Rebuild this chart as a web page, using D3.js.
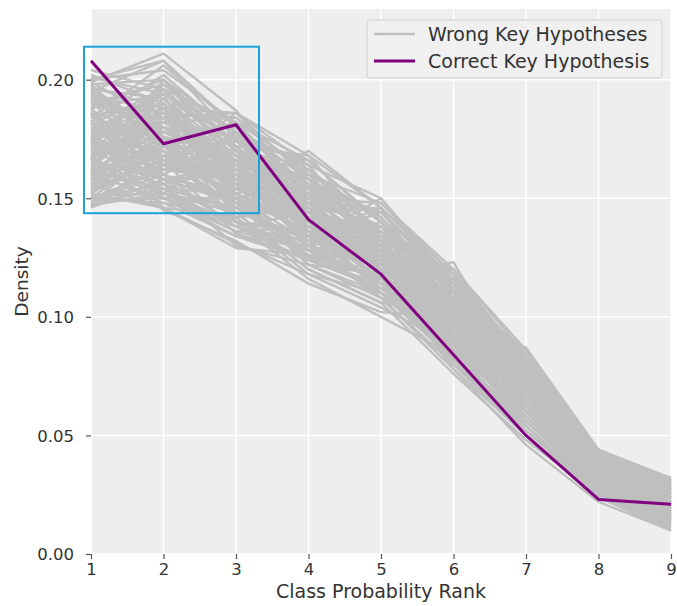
<!DOCTYPE html>
<html>
<head>
<meta charset="utf-8">
<script src="https://cdn.jsdelivr.net/npm/d3@7/dist/d3.min.js"></script>
<style>
  html, body { margin: 0; padding: 0; background: #ffffff; }
  svg { display: block; font-family: "DejaVu Sans", sans-serif; }
</style>
</head>
<body>
<svg id="chart" width="677" height="606"></svg>
<script>
// Rank positions on the x axis
const ranks = [1, 2, 3, 4, 5, 6, 7, 8, 9];

// Density per rank for the correct key hypothesis
const correctKey = [0.208, 0.173, 0.181, 0.141, 0.118, 0.084, 0.050, 0.023, 0.021];

// Density per rank for each wrong key hypothesis
const wrongKeys = [
  [0.204, 0.196, 0.170, 0.148, 0.126, 0.090, 0.058, 0.030, 0.016],
  [0.199, 0.211, 0.187, 0.150, 0.122, 0.086, 0.060, 0.032, 0.018],
  [0.195, 0.208, 0.180, 0.158, 0.132, 0.094, 0.064, 0.028, 0.014],
  [0.150, 0.162, 0.176, 0.166, 0.140, 0.104, 0.070, 0.036, 0.022],
  [0.147, 0.175, 0.158, 0.140, 0.130, 0.112, 0.078, 0.040, 0.028],
  [0.160, 0.150, 0.140, 0.134, 0.146, 0.118, 0.082, 0.042, 0.030],
  [0.178, 0.168, 0.150, 0.122, 0.118, 0.123, 0.072, 0.038, 0.026],
  [0.185, 0.190, 0.160, 0.136, 0.112, 0.098, 0.087, 0.044, 0.032],
  [0.170, 0.182, 0.184, 0.160, 0.128, 0.082, 0.052, 0.026, 0.012],
  [0.156, 0.146, 0.129, 0.126, 0.124, 0.108, 0.080, 0.041, 0.031],
  [0.188, 0.200, 0.164, 0.130, 0.108, 0.078, 0.050, 0.024, 0.010],
  [0.166, 0.158, 0.148, 0.155, 0.142, 0.110, 0.076, 0.039, 0.027],
  [0.174, 0.186, 0.172, 0.146, 0.120, 0.096, 0.066, 0.034, 0.021],
  [0.152, 0.170, 0.142, 0.118, 0.104, 0.088, 0.062, 0.031, 0.019],
  [0.192, 0.176, 0.156, 0.144, 0.136, 0.102, 0.068, 0.033, 0.020],
  [0.162, 0.192, 0.168, 0.128, 0.110, 0.084, 0.056, 0.029, 0.015],
  [0.180, 0.160, 0.138, 0.132, 0.150, 0.114, 0.074, 0.037, 0.025],
  [0.148, 0.154, 0.146, 0.162, 0.134, 0.092, 0.060, 0.030, 0.017],
  [0.200, 0.204, 0.182, 0.152, 0.116, 0.080, 0.054, 0.027, 0.013],
  [0.168, 0.145, 0.132, 0.114, 0.102, 0.100, 0.084, 0.043, 0.030],
  [0.158, 0.180, 0.162, 0.142, 0.138, 0.106, 0.071, 0.035, 0.023],
  [0.184, 0.172, 0.178, 0.164, 0.128, 0.090, 0.058, 0.029, 0.016],
  [0.176, 0.196, 0.152, 0.124, 0.114, 0.086, 0.064, 0.033, 0.022],
  [0.154, 0.166, 0.174, 0.156, 0.144, 0.116, 0.079, 0.040, 0.028],
  [0.190, 0.184, 0.144, 0.120, 0.106, 0.076, 0.048, 0.025, 0.012],
  [0.164, 0.188, 0.186, 0.168, 0.132, 0.094, 0.062, 0.032, 0.018],
  [0.172, 0.150, 0.136, 0.138, 0.126, 0.104, 0.076, 0.038, 0.026],
  [0.146, 0.158, 0.160, 0.150, 0.148, 0.120, 0.086, 0.042, 0.031],
  [0.196, 0.178, 0.166, 0.134, 0.112, 0.088, 0.066, 0.034, 0.024],
  [0.182, 0.202, 0.176, 0.146, 0.118, 0.082, 0.050, 0.024, 0.011],
  [0.160, 0.174, 0.150, 0.136, 0.120, 0.098, 0.078, 0.041, 0.029],
  [0.150, 0.148, 0.134, 0.130, 0.140, 0.112, 0.073, 0.036, 0.024],
  [0.186, 0.164, 0.154, 0.170, 0.146, 0.100, 0.060, 0.030, 0.016],
  [0.170, 0.194, 0.170, 0.140, 0.124, 0.092, 0.068, 0.035, 0.021],
  [0.178, 0.152, 0.140, 0.116, 0.100, 0.084, 0.070, 0.037, 0.027],
  [0.194, 0.186, 0.184, 0.160, 0.130, 0.096, 0.056, 0.028, 0.014],
  [0.158, 0.168, 0.146, 0.126, 0.116, 0.106, 0.082, 0.043, 0.032],
  [0.166, 0.198, 0.174, 0.152, 0.126, 0.090, 0.054, 0.026, 0.013],
  [0.188, 0.156, 0.130, 0.122, 0.110, 0.094, 0.076, 0.039, 0.028],
  [0.152, 0.178, 0.164, 0.158, 0.142, 0.108, 0.070, 0.034, 0.020],
  [0.174, 0.170, 0.158, 0.148, 0.138, 0.118, 0.080, 0.040, 0.026],
  [0.202, 0.190, 0.162, 0.132, 0.108, 0.080, 0.052, 0.027, 0.015],
  [0.156, 0.160, 0.176, 0.144, 0.122, 0.102, 0.074, 0.038, 0.025],
  [0.184, 0.206, 0.180, 0.154, 0.120, 0.078, 0.046, 0.022, 0.010],
  [0.162, 0.154, 0.138, 0.128, 0.134, 0.114, 0.084, 0.044, 0.031],
  [0.180, 0.182, 0.168, 0.162, 0.136, 0.098, 0.064, 0.031, 0.018],
  [0.168, 0.176, 0.148, 0.124, 0.112, 0.090, 0.072, 0.037, 0.025],
  [0.198, 0.170, 0.156, 0.138, 0.128, 0.100, 0.062, 0.031, 0.017],
  [0.148, 0.164, 0.170, 0.164, 0.150, 0.110, 0.068, 0.033, 0.019],
  [0.176, 0.146, 0.142, 0.146, 0.132, 0.104, 0.078, 0.039, 0.026],
  [0.190, 0.198, 0.178, 0.136, 0.116, 0.086, 0.058, 0.029, 0.016],
  [0.160, 0.184, 0.152, 0.140, 0.126, 0.120, 0.080, 0.042, 0.029],
  [0.172, 0.162, 0.166, 0.150, 0.118, 0.096, 0.066, 0.034, 0.022],
  [0.154, 0.190, 0.158, 0.134, 0.144, 0.112, 0.070, 0.035, 0.021],
  [0.186, 0.150, 0.150, 0.156, 0.130, 0.092, 0.060, 0.030, 0.017],
  [0.194, 0.180, 0.172, 0.142, 0.124, 0.088, 0.056, 0.028, 0.014],
  [0.164, 0.156, 0.144, 0.120, 0.106, 0.100, 0.080, 0.041, 0.030],
  [0.178, 0.188, 0.160, 0.130, 0.114, 0.094, 0.074, 0.038, 0.027],
  [0.150, 0.172, 0.182, 0.166, 0.140, 0.106, 0.066, 0.032, 0.019],
  [0.170, 0.166, 0.135, 0.125, 0.118, 0.110, 0.086, 0.043, 0.031],
  [0.196, 0.192, 0.164, 0.144, 0.120, 0.084, 0.052, 0.025, 0.012],
  [0.158, 0.176, 0.168, 0.152, 0.136, 0.116, 0.077, 0.039, 0.024],
  [0.182, 0.158, 0.148, 0.128, 0.122, 0.102, 0.070, 0.036, 0.023],
  [0.166, 0.186, 0.154, 0.148, 0.128, 0.098, 0.064, 0.032, 0.020],
  [0.200, 0.208, 0.175, 0.140, 0.110, 0.082, 0.054, 0.026, 0.013],
  [0.152, 0.146, 0.131, 0.118, 0.110, 0.092, 0.072, 0.037, 0.027],
  [0.176, 0.164, 0.186, 0.158, 0.126, 0.090, 0.060, 0.030, 0.018],
  [0.188, 0.194, 0.140, 0.128, 0.116, 0.104, 0.068, 0.033, 0.020],
  [0.162, 0.152, 0.172, 0.168, 0.146, 0.098, 0.062, 0.031, 0.019],
  [0.146, 0.168, 0.156, 0.132, 0.122, 0.114, 0.084, 0.042, 0.030],
  [0.199, 0.182, 0.166, 0.150, 0.130, 0.100, 0.070, 0.035, 0.020],
  [0.193, 0.166, 0.152, 0.136, 0.124, 0.106, 0.078, 0.040, 0.027],
  [0.187, 0.174, 0.182, 0.162, 0.140, 0.096, 0.058, 0.029, 0.017],
  [0.181, 0.196, 0.170, 0.138, 0.116, 0.092, 0.066, 0.034, 0.022],
  [0.175, 0.158, 0.138, 0.124, 0.120, 0.110, 0.082, 0.042, 0.030],
  [0.169, 0.180, 0.160, 0.152, 0.134, 0.104, 0.072, 0.036, 0.024],
  [0.163, 0.200, 0.178, 0.156, 0.128, 0.088, 0.056, 0.028, 0.015],
  [0.157, 0.164, 0.154, 0.142, 0.138, 0.116, 0.078, 0.040, 0.026],
  [0.151, 0.152, 0.136, 0.128, 0.126, 0.108, 0.080, 0.041, 0.029],
  [0.197, 0.188, 0.150, 0.126, 0.112, 0.094, 0.070, 0.036, 0.024],
  [0.191, 0.162, 0.160, 0.160, 0.142, 0.108, 0.064, 0.032, 0.018],
  [0.185, 0.184, 0.186, 0.164, 0.124, 0.086, 0.054, 0.026, 0.013],
  [0.179, 0.174, 0.144, 0.134, 0.130, 0.112, 0.076, 0.038, 0.026],
  [0.173, 0.158, 0.164, 0.146, 0.118, 0.094, 0.068, 0.035, 0.023],
  [0.167, 0.192, 0.162, 0.130, 0.114, 0.100, 0.074, 0.038, 0.026],
  [0.161, 0.148, 0.142, 0.150, 0.144, 0.114, 0.078, 0.039, 0.027],
  [0.155, 0.178, 0.180, 0.158, 0.132, 0.096, 0.062, 0.031, 0.019],
  [0.149, 0.160, 0.150, 0.140, 0.128, 0.104, 0.080, 0.042, 0.030],
  [0.198, 0.200, 0.172, 0.148, 0.118, 0.080, 0.050, 0.025, 0.012],
  [0.192, 0.176, 0.146, 0.132, 0.126, 0.106, 0.068, 0.034, 0.021],
  [0.186, 0.166, 0.176, 0.152, 0.136, 0.102, 0.062, 0.031, 0.018],
  [0.180, 0.190, 0.156, 0.122, 0.108, 0.092, 0.076, 0.039, 0.028],
  [0.174, 0.154, 0.152, 0.160, 0.148, 0.118, 0.074, 0.036, 0.022],
  [0.168, 0.184, 0.168, 0.144, 0.124, 0.090, 0.060, 0.030, 0.017],
  [0.162, 0.170, 0.140, 0.136, 0.132, 0.120, 0.084, 0.043, 0.031],
  [0.156, 0.196, 0.182, 0.150, 0.120, 0.084, 0.054, 0.027, 0.014],
  [0.150, 0.156, 0.162, 0.154, 0.138, 0.110, 0.072, 0.035, 0.021],
  [0.195, 0.172, 0.158, 0.142, 0.122, 0.098, 0.066, 0.033, 0.021],
  [0.189, 0.186, 0.166, 0.128, 0.110, 0.086, 0.060, 0.030, 0.018],
  [0.183, 0.150, 0.134, 0.124, 0.128, 0.116, 0.082, 0.041, 0.028],
  [0.177, 0.194, 0.174, 0.166, 0.140, 0.102, 0.064, 0.032, 0.018],
  [0.171, 0.168, 0.160, 0.138, 0.120, 0.100, 0.072, 0.037, 0.025],
  [0.165, 0.160, 0.178, 0.148, 0.126, 0.094, 0.066, 0.034, 0.022],
  [0.159, 0.188, 0.150, 0.132, 0.124, 0.108, 0.078, 0.040, 0.027],
  [0.153, 0.166, 0.156, 0.162, 0.140, 0.106, 0.070, 0.035, 0.021],
  [0.147, 0.152, 0.144, 0.134, 0.136, 0.112, 0.076, 0.039, 0.027],
  [0.201, 0.194, 0.178, 0.146, 0.114, 0.082, 0.052, 0.026, 0.014],
  [0.185, 0.160, 0.148, 0.140, 0.134, 0.108, 0.074, 0.038, 0.025],
  [0.179, 0.180, 0.162, 0.154, 0.130, 0.098, 0.062, 0.031, 0.019],
  [0.173, 0.198, 0.172, 0.136, 0.116, 0.088, 0.058, 0.029, 0.016],
  [0.167, 0.152, 0.146, 0.130, 0.122, 0.106, 0.080, 0.041, 0.029],
  [0.161, 0.182, 0.176, 0.160, 0.142, 0.104, 0.066, 0.033, 0.020],
  [0.155, 0.172, 0.148, 0.124, 0.112, 0.098, 0.078, 0.040, 0.028],
  [0.149, 0.150, 0.138, 0.144, 0.146, 0.116, 0.076, 0.037, 0.023],
  [0.193, 0.178, 0.168, 0.156, 0.128, 0.092, 0.058, 0.028, 0.015],
  [0.170, 0.186, 0.158, 0.134, 0.120, 0.096, 0.070, 0.036, 0.023],
  [0.158, 0.174, 0.166, 0.146, 0.132, 0.100, 0.068, 0.035, 0.022],
  [0.182, 0.170, 0.154, 0.142, 0.126, 0.102, 0.072, 0.037, 0.024],
  [0.164, 0.162, 0.158, 0.150, 0.136, 0.104, 0.066, 0.034, 0.021],
  [0.176, 0.178, 0.164, 0.138, 0.124, 0.096, 0.070, 0.036, 0.024]
];

// Axis ticks
const yTicks = [0.00, 0.05, 0.10, 0.15, 0.20];
const xTicks = ranks;

// Highlighted region (data coordinates) around the first three ranks
const focusRanks = [0.903, 3.317];
const focusDensity = [0.1437, 0.2139];

const legendItems = [
  { label: "Wrong Key Hypotheses", color: "#bfbfbf" },
  { label: "Correct Key Hypothesis", color: "#800080" }
];

const svg = d3.select("#chart");
const plot = { left: 91, right: 671, top: 9, bottom: 554 };

const x = d3.scaleLinear().domain([1, 9]).range([plot.left, plot.right]);
const y = d3.scaleLinear().domain([0, 0.2298]).range([plot.bottom, plot.top]);

// Plot background
svg.append("rect")
  .attr("x", plot.left).attr("y", plot.top)
  .attr("width", plot.right - plot.left)
  .attr("height", plot.bottom - plot.top)
  .attr("fill", "#eeeeee");

// Grid lines
const grid = svg.append("g");
grid.selectAll(".gx").data(xTicks).join("line")
  .attr("x1", d => x(d)).attr("x2", d => x(d))
  .attr("y1", plot.top).attr("y2", plot.bottom)
  .attr("stroke", "#ffffff").attr("stroke-width", 1.5);
grid.selectAll(".gy").data(yTicks).join("line")
  .attr("x1", plot.left).attr("x2", plot.right)
  .attr("y1", d => y(d)).attr("y2", d => y(d))
  .attr("stroke", "#ffffff").attr("stroke-width", 1.5);

// Axes
const yAxis = d3.axisLeft(y).tickValues(yTicks).tickFormat(d3.format(".2f"))
  .tickSize(5).tickPadding(12);
const xAxis = d3.axisBottom(x).tickValues(xTicks).tickFormat(d3.format("d"))
  .tickSize(5).tickPadding(4);

const gy = svg.append("g").attr("transform", `translate(${plot.left},0)`).call(yAxis);
const gx = svg.append("g").attr("transform", `translate(0,${plot.bottom})`).call(xAxis);
[gx, gy].forEach(g => {
  g.select(".domain").remove();
  g.selectAll(".tick line").attr("stroke", "#555555").attr("stroke-width", 1.2);
  g.selectAll(".tick text")
    .attr("fill", "#333333")
    .style("font-size", "16.5px")
    .style("font-family", "DejaVu Sans, sans-serif");
});
gy.selectAll(".tick text").attr("dy", "0.36em");

// Lines
const line = d3.line().x((d, i) => x(ranks[i])).y(d => y(d));

svg.append("g").selectAll("path").data(wrongKeys).join("path")
  .attr("d", line)
  .attr("fill", "none")
  .attr("stroke", "#bfbfbf")
  .attr("stroke-width", 2.4)
  .attr("stroke-linejoin", "round");

svg.append("path").datum(correctKey)
  .attr("d", line)
  .attr("fill", "none")
  .attr("stroke", "#800080")
  .attr("stroke-width", 3)
  .attr("stroke-linejoin", "round");

// Axis labels
svg.append("text")
  .attr("x", (plot.left + plot.right) / 2).attr("y", 598)
  .attr("text-anchor", "middle")
  .attr("fill", "#333333")
  .style("font-size", "19px")
  .text("Class Probability Rank");

svg.append("text")
  .attr("transform", `translate(28,${(plot.top + plot.bottom) / 2}) rotate(-90)`)
  .attr("text-anchor", "middle")
  .attr("fill", "#333333")
  .style("font-size", "18.5px")
  .text("Density");

// Legend
const legend = svg.append("g");
legend.append("rect")
  .attr("x", 367).attr("y", 20).attr("width", 295).attr("height", 58)
  .attr("rx", 3)
  .attr("fill", "#f0f0f0").attr("fill-opacity", 0.85)
  .attr("stroke", "#d0d0d0").attr("stroke-width", 1);
legendItems.forEach((item, i) => {
  const cy = 34 + i * 27;
  legend.append("line")
    .attr("x1", 374).attr("x2", 415)
    .attr("y1", cy).attr("y2", cy)
    .attr("stroke", item.color).attr("stroke-width", i === 0 ? 2.5 : 3);
  legend.append("text")
    .attr("x", 428).attr("y", cy + 7)
    .attr("fill", "#333333")
    .style("font-size", "19px")
    .text(item.label);
});

// Highlight box around the first ranks
svg.append("rect")
  .attr("x", x(focusRanks[0])).attr("y", y(focusDensity[1]))
  .attr("width", x(focusRanks[1]) - x(focusRanks[0]))
  .attr("height", y(focusDensity[0]) - y(focusDensity[1]))
  .attr("fill", "none")
  .attr("stroke", "#1aa3d8").attr("stroke-width", 2);
</script>
</body>
</html>
